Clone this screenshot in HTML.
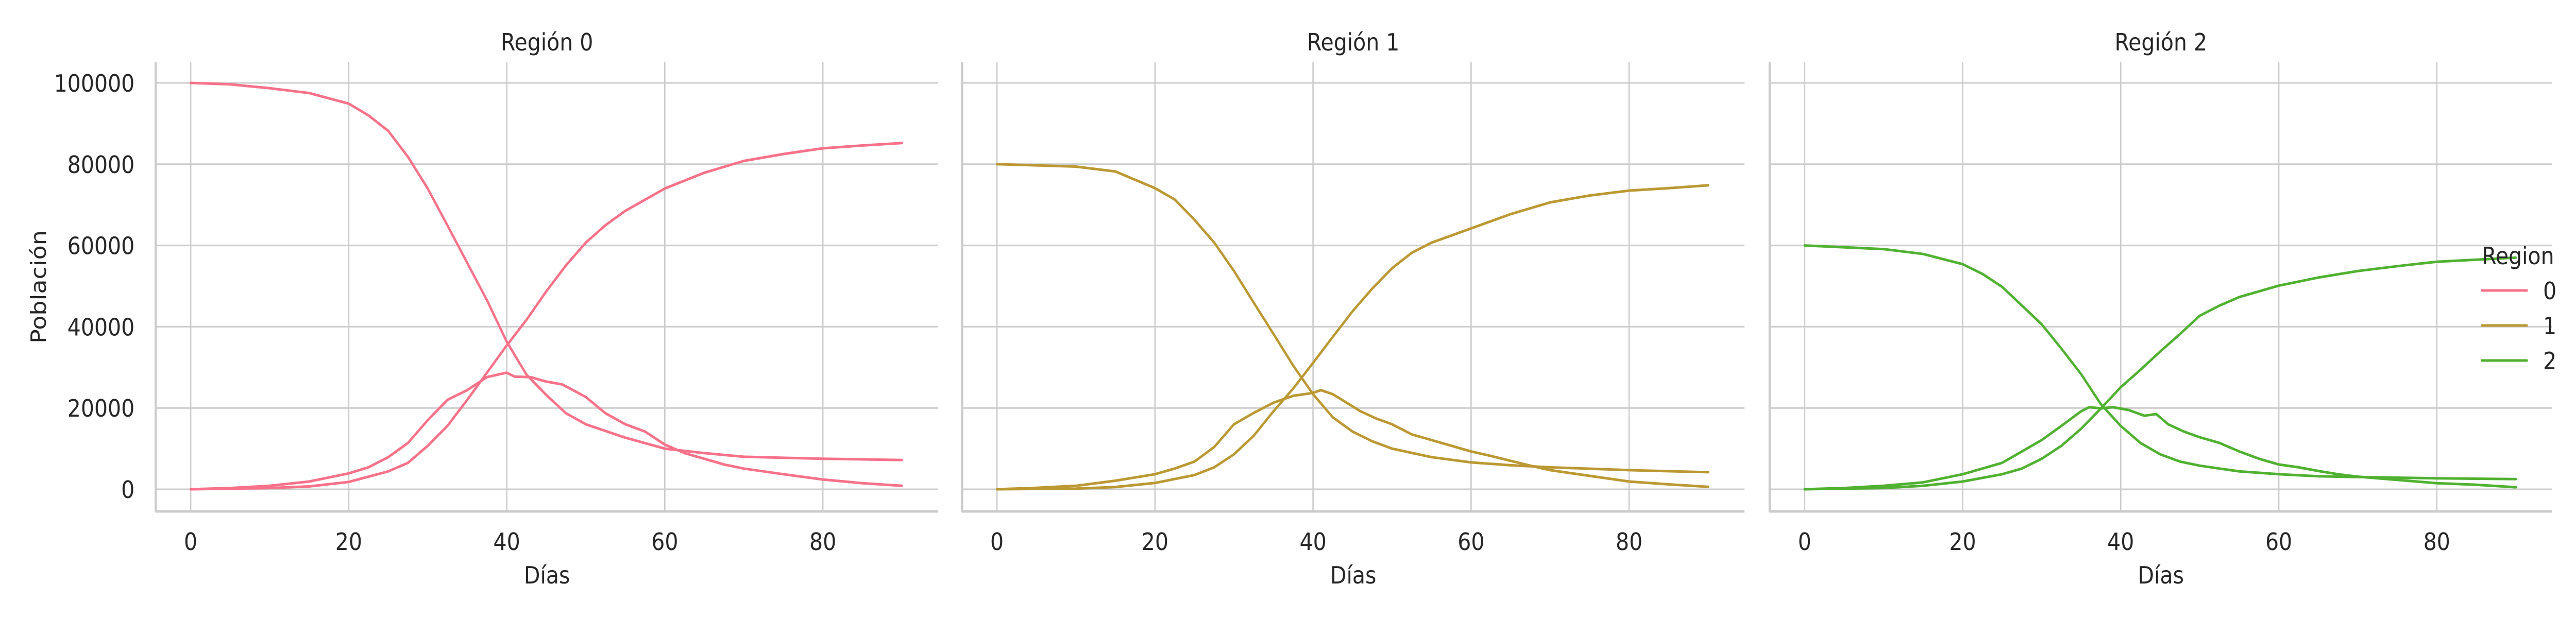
<!DOCTYPE html>
<html><head><meta charset="utf-8"><style>
html,body{margin:0;padding:0;background:#fff;overflow:hidden;width:100%;height:100%}
svg{display:block;width:100vw;height:100vh}
text{font-family:"DejaVu Sans","Liberation Sans",sans-serif;fill:#262626;font-size:46px}
</style></head><body>
<svg id="chart" viewBox="0 0 5607 1200" preserveAspectRatio="none" xmlns="http://www.w3.org/2000/svg"></svg>
<script>
const xTicks = [0, 20, 40, 60, 80];
const yTicks = [0, 20000, 40000, 60000, 80000, 100000];
const regions = ["0", "1", "2"];
const colors = ["#f77189", "#bb9832", "#50b131"];
const days0S = [0,5,10,15,20,22.5,25,27.5,30,32.5,35,37.5,40,42.5,45,47.5,50,55,60,65,70,80,90];
const s0 = [100000,99650,98700,97500,94900,92000,88200,81800,74000,64900,55700,46500,36300,28200,23200,18700,16000,12700,10000,8900,8000,7500,7200];
const daysR = [0,10,15,20,25,27.5,30,32.5,35,37.5,40,42.5,45,47.5,50,52.5,55,60,65,70,75,80,85,90];
const r0 = [0,300,700,1800,4400,6500,10700,15600,22000,28700,35400,41700,48700,55100,60700,65000,68500,74000,77900,80800,82500,83900,84600,85200];
const daysI0 = [0,5,10,15,20,22.5,25,27.5,30,32.5,35,37.5,40,41,43,45,47,48,50,52.5,55,57.5,60,62.5,65,67.5,70,75,80,85,90];
const i0 = [0,300,850,1900,3900,5400,7900,11400,17000,22000,24400,27600,28700,27700,27600,26500,25800,24800,22700,18700,16000,14200,11000,8900,7500,6100,5100,3700,2400,1500,850];
const daysS12 = [0,10,15,20,22.5,25,27.5,30,32.5,35,37.5,40,42.5,45,47.5,50,55,60,65,70,80,90];
const s1 = [80000,79400,78200,74100,71300,66300,60700,53700,45900,38200,30400,23400,17700,14200,11800,10000,7900,6600,5900,5400,4700,4200];
const r1 = [0,150,560,1550,3500,5400,8600,13200,19200,24800,31100,37500,43800,49400,54400,58200,60700,64200,67700,70600,72300,73500,74100,74800];
const daysI1 = [0,5,10,15,20,22.5,25,27.5,30,32.5,35,37.5,40,41,42.5,44,46,48,50,52.5,55,57.5,60,62.5,65,67.5,70,75,80,85,90];
const i1 = [0,350,850,2100,3700,5100,6800,10400,16000,18800,21300,23000,23700,24400,23400,21600,19200,17400,16000,13500,12100,10700,9300,8200,7000,5800,4700,3300,1900,1200,600];
const s2 = [60000,59100,57900,55400,53000,49800,45200,40600,34600,28300,20900,15600,11400,8600,6800,5800,4400,3700,3200,3000,2700,2500];
const r2 = [0,300,850,1900,3700,5100,7500,10700,14900,19900,25100,29400,33900,38200,42700,45200,47300,50100,52100,53700,54900,56000,56500,57000];
const daysI2 = [0,5,10,15,20,22.5,25,27.5,30,32.5,35,36,37.5,39,41,43,44.5,46,48,50,52.5,55,57.5,60,62.5,65,67.5,70,75,80,85,90];
const i2 = [0,300,850,1700,3700,5100,6500,9300,12100,15600,19200,20200,19900,20200,19500,18100,18500,16000,14200,12800,11400,9300,7500,6100,5400,4500,3700,3100,2300,1500,1100,500];

const svg = document.getElementById('chart');
const NS = 'http://www.w3.org/2000/svg';
function mk(tag, attrs, parent){const e=document.createElementNS(NS,tag);for(const k in attrs)e.setAttribute(k,attrs[k]);(parent||svg).appendChild(e);return e;}

const panelLeft = [339, 2094, 3852];
const panelW = 1703, topY = 121, bottomY = 993;
const xOff = 76, pxPerDay = 17.2;
const yZero = 950, pxPerUnit = (950-161)/100000;
const yScale = v => yZero - v*pxPerUnit;

const seriesSets = [
  [[days0S,s0],[daysR,r0],[daysI0,i0]],
  [[daysS12,s1],[daysR,r1],[daysI1,i1]],
  [[daysS12,s2],[daysR,r2],[daysI2,i2]]
];
const seriesNames = ['susceptibles','recuperados','infectados'];

for (let p=0;p<3;p++){
  const L = panelLeft[p];
  const xScale = d => L + xOff + d*pxPerDay;
  const g = mk('g',{});
  
  
  yTicks.forEach(t=>{
    const ln = mk('line',{x1:L,x2:L+panelW,y1:yScale(t),y2:yScale(t),stroke:'#cccccc','stroke-width':3},g);
    
    
  });
  xTicks.forEach(t=>{
    const ln = mk('line',{x1:xScale(t),x2:xScale(t),y1:topY,y2:bottomY,stroke:'#cccccc','stroke-width':3},g);
    
    
    const tx = mk('text',{x:xScale(t),y:1068,'text-anchor':'middle'},g);
    tx.textContent = t;
    
    
  });
  const sl = mk('line',{x1:L,x2:L,y1:topY,y2:bottomY+2,stroke:'#cccccc','stroke-width':5},g);
  
  
  const sb = mk('line',{x1:L,x2:L+panelW,y1:bottomY,y2:bottomY,stroke:'#cccccc','stroke-width':5},g);
  
  
  const cx = L + panelW/2;
  const title = mk('text',{x:cx,y:98,'text-anchor':'middle'},g);
  title.textContent = 'Región ' + regions[p];
  
  
  const xl = mk('text',{x:cx,y:1133,'text-anchor':'middle'},g);
  xl.textContent = 'Días';
  
  
  seriesSets[p].forEach((sr,k)=>{
    const ds=sr[0], vs=sr[1];
    const d = ds.map((dd,i)=>(i?'L':'M')+xScale(dd).toFixed(1)+','+yScale(vs[i]).toFixed(1)).join(' ');
    const path = mk('path',{d:d,fill:'none',stroke:colors[p],'stroke-width':5,'stroke-linejoin':'round','stroke-linecap':'round'},g);
    
    
  });
  if(p===0){
    yTicks.forEach(t=>{
      const tx = mk('text',{x:293,y:yScale(t)+17,'text-anchor':'end'},g);
      tx.textContent = t;
      
      
    });
    const yl = mk('text',{x:0,y:0,'text-anchor':'middle',transform:'translate(100,557) rotate(-90)'},g);
    yl.textContent = 'Población';
    
    
  }
}
const lg = mk('g',{});


const lt = mk('text',{x:5402,y:513},lg);
lt.textContent = 'Region';


regions.forEach((r,i)=>{
  const yy = 564 + i*68;
  const ln = mk('line',{x1:5402,x2:5500,y1:yy,y2:yy,stroke:colors[i],'stroke-width':5,'stroke-linecap':'round'},lg);
  
  
  const tx = mk('text',{x:5550,y:yy+17,'text-anchor':'middle'},lg);
  tx.textContent = r;
  
  
});
</script>
</body></html>
